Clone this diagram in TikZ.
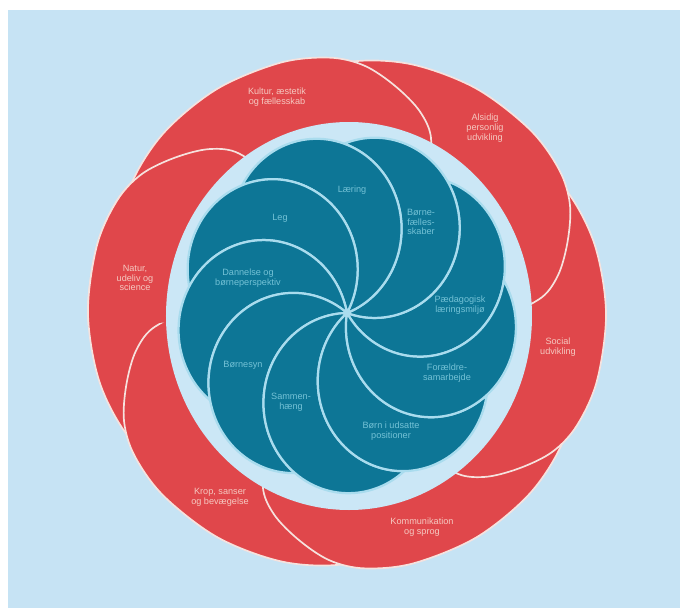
\documentclass[tikz,border=0pt]{standalone}
\usepackage{fontspec}
\setsansfont{Liberation Sans}
\usepackage{tikz}
\usepackage{xcolor}
\definecolor{skyback}{HTML}{C6E3F4}
\definecolor{ringblue}{HTML}{CBE7F6}
\definecolor{petalred}{HTML}{E0474B}
\definecolor{petalline}{HTML}{F6E2DE}
\definecolor{petalink}{HTML}{F5C9C1}
\definecolor{swirlteal}{HTML}{0D7696}
\definecolor{swirlline}{HTML}{A9DCEE}
\definecolor{swirlink}{HTML}{74C2D6}

\tikzset{
  petal/.style={fill=petalred, draw=petalline, line width=1.2pt},
  lobe/.style={fill=swirlteal, draw=swirlline, line width=1.6pt},
  petallabel/.style={text=petalink, font=\fontsize{6.5}{7}\selectfont\sffamily, align=center},
  lobelabel/.style={text=swirlink, font=\fontsize{6.5}{7}\selectfont\sffamily, align=center},
  pics/leaf/.style={code={
    \path[petal] plot[smooth cycle, tension=0.55] coordinates {(60:150) (64:192) (70:214)
      (78:232) (86:248) (94:256) (105:259) (120:259) (135:257) (148:252) (160:242)
      (172:225) (180:190) (172:130) (125:100) (80:110)};
  }}
}

\begin{document}
\begin{tikzpicture}[x=0.025cm, y=0.025cm]
  \useasboundingbox (-347,-295) rectangle (333,313);
  % page and backdrop
  \fill[white] (-347,-295) rectangle (333,313);
  \fill[skyback] (-339,-295) rectangle (333,303);
  % outer petals, each one laid over its clockwise neighbour
  \foreach \rot in {60,120,180,240,300,360}
    \pic[rotate=\rot] {leaf};
  \begin{scope}
    \clip (0,0) -- (95:400) -- (183:400) -- cycle;
    \pic[rotate=60] {leaf};
  \end{scope}
  \node[petallabel] (kultur) at (-70,216) {Kultur, æstetik\\og fællesskab};
  \node[petallabel] (alsidig) at (138,185) {Alsidig\\personlig\\udvikling};
  \node[petallabel] (social) at (211,-34) {Social\\udvikling};
  \node[petallabel] (kommunikation) at (75,-214) {Kommunikation\\og sprog};
  \node[petallabel] (krop) at (-127,-184) {Krop, sanser\\og bevægelse};
  \node[petallabel] (natur) at (-212,35) {Natur,\\udeliv og\\science};
  % light ring
  \fill[ringblue] (2,-3) ellipse [x radius=183, y radius=194];
  % swirl of nine lobes
  \begin{scope}[yscale=1.06]
    \foreach \c in {31,71,...,351}
      \path[lobe] (0,0) arc[start angle=\c-180, end angle=\c+40, radius=85]
        arc[start angle=\c, end angle=\c-140, radius=85] -- cycle;
    \fill[swirlline] (0,0) circle [radius=4];
  \end{scope}
  \node[lobelabel] (laering) at (5,123) {Læring};
  \node[lobelabel] (faellesskaber) at (74,91) {Børne-\\fælles-\\skaber};
  \node[lobelabel] (laeringsmiljo) at (113,8) {Pædagogisk\\læringsmiljø};
  \node[lobelabel] (foraeldre) at (100,-60) {Forældre-\\samarbejde};
  \node[lobelabel] (udsatte) at (44,-118) {Børn i udsatte\\positioner};
  \node[lobelabel] (sammenhaeng) at (-56,-89) {Sammen-\\hæng};
  \node[lobelabel] (boernesyn) at (-104,-52) {Børnesyn};
  \node[lobelabel] (dannelse) at (-99,35) {Dannelse og\\børneperspektiv};
  \node[lobelabel] (leg) at (-67,95) {Leg};
\end{tikzpicture}
\end{document}
